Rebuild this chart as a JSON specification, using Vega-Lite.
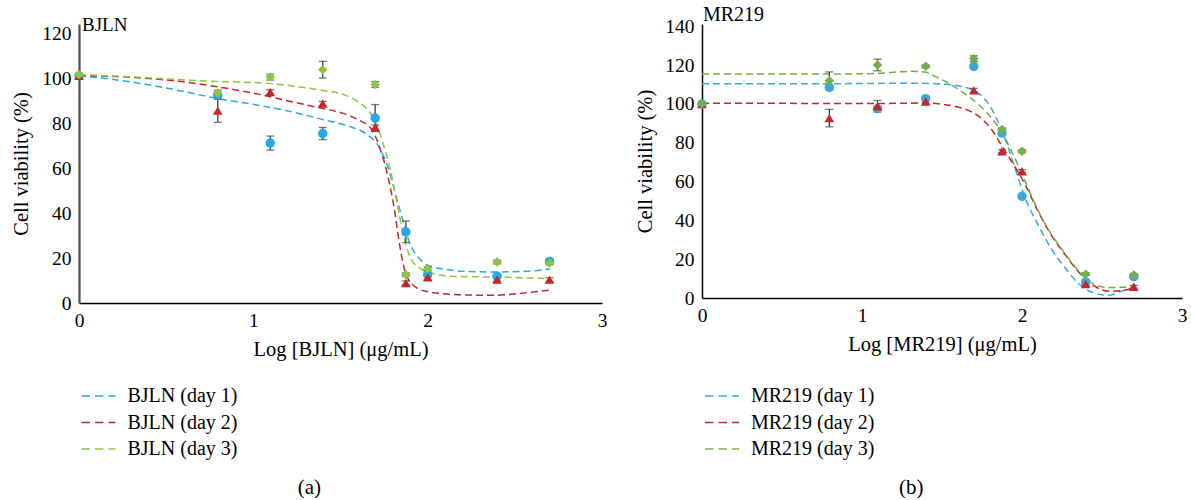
{
  "$schema": "https://vega.github.io/schema/vega-lite/v6.json",
  "background": "white",
  "padding": {"left": 11, "top": 5, "right": 4, "bottom": 0},
  "bounds": "flush",
  "spacing": 100,
  "resolve": {"scale": {"color": "independent", "x": "independent", "y": "independent"}, "legend": {"color": "independent"}, "axis": {"x": "independent", "y": "independent"}},
  "config": {
    "font": "Liberation Serif",
    "view": {"stroke": null},
    "axis": {"ticks": false, "grid": false, "labelPadding": 8, "labelFontSize": 19.5, "labelColor": "black", "titleFontSize": 20.5, "titleFontWeight": "normal", "titleColor": "black", "domainColor": "black", "domainWidth": 1.5, "labelFont": "Liberation Serif", "titleFont": "Liberation Serif", "labelFlush": false, "labelOverlap": false},
    "title": {"font": "Liberation Serif", "fontSize": 21, "fontWeight": "normal", "color": "black"},
    "legend": {"labelFont": "Liberation Serif"}
  },
  "datasets": {
    "curvesA": [
      {"s": "BJLN (day 1)", "lx": 0, "v": 101}, {"s": "BJLN (day 1)", "lx": 0.2, "v": 99.3}, {"s": "BJLN (day 1)", "lx": 0.4, "v": 97}, {"s": "BJLN (day 1)", "lx": 0.6, "v": 94}, {"s": "BJLN (day 1)", "lx": 0.8, "v": 90.8}, {"s": "BJLN (day 1)", "lx": 1.0, "v": 88.3}, {"s": "BJLN (day 1)", "lx": 1.2, "v": 85.3}, {"s": "BJLN (day 1)", "lx": 1.4, "v": 81.5}, {"s": "BJLN (day 1)", "lx": 1.55, "v": 78.5}, {"s": "BJLN (day 1)", "lx": 1.65, "v": 75}, {"s": "BJLN (day 1)", "lx": 1.72, "v": 69.5}, {"s": "BJLN (day 1)", "lx": 1.78, "v": 58.5}, {"s": "BJLN (day 1)", "lx": 1.816, "v": 48.2}, {"s": "BJLN (day 1)", "lx": 1.854, "v": 37.8}, {"s": "BJLN (day 1)", "lx": 1.9, "v": 26}, {"s": "BJLN (day 1)", "lx": 1.95, "v": 20}, {"s": "BJLN (day 1)", "lx": 2.0, "v": 16.8}, {"s": "BJLN (day 1)", "lx": 2.1, "v": 15}, {"s": "BJLN (day 1)", "lx": 2.2, "v": 14.1}, {"s": "BJLN (day 1)", "lx": 2.35, "v": 13.8}, {"s": "BJLN (day 1)", "lx": 2.5, "v": 13.9}, {"s": "BJLN (day 1)", "lx": 2.6, "v": 14.3}, {"s": "BJLN (day 1)", "lx": 2.7, "v": 15.1},
      {"s": "BJLN (day 2)", "lx": 0, "v": 101}, {"s": "BJLN (day 2)", "lx": 0.2, "v": 100.7}, {"s": "BJLN (day 2)", "lx": 0.4, "v": 99.8}, {"s": "BJLN (day 2)", "lx": 0.6, "v": 98.3}, {"s": "BJLN (day 2)", "lx": 0.8, "v": 96}, {"s": "BJLN (day 2)", "lx": 1.0, "v": 93.3}, {"s": "BJLN (day 2)", "lx": 1.2, "v": 89.8}, {"s": "BJLN (day 2)", "lx": 1.4, "v": 86.4}, {"s": "BJLN (day 2)", "lx": 1.51, "v": 84.4}, {"s": "BJLN (day 2)", "lx": 1.6, "v": 81.5}, {"s": "BJLN (day 2)", "lx": 1.68, "v": 77}, {"s": "BJLN (day 2)", "lx": 1.732, "v": 67.4}, {"s": "BJLN (day 2)", "lx": 1.77, "v": 57}, {"s": "BJLN (day 2)", "lx": 1.808, "v": 42.2}, {"s": "BJLN (day 2)", "lx": 1.836, "v": 27.4}, {"s": "BJLN (day 2)", "lx": 1.865, "v": 15.6}, {"s": "BJLN (day 2)", "lx": 1.913, "v": 8.2}, {"s": "BJLN (day 2)", "lx": 1.99, "v": 5.2}, {"s": "BJLN (day 2)", "lx": 2.18, "v": 3.7}, {"s": "BJLN (day 2)", "lx": 2.37, "v": 3.4}, {"s": "BJLN (day 2)", "lx": 2.56, "v": 4.5}, {"s": "BJLN (day 2)", "lx": 2.71, "v": 5.8},
      {"s": "BJLN (day 3)", "lx": 0, "v": 101.5}, {"s": "BJLN (day 3)", "lx": 0.3, "v": 100.5}, {"s": "BJLN (day 3)", "lx": 0.69, "v": 98.8}, {"s": "BJLN (day 3)", "lx": 1.1, "v": 97.5}, {"s": "BJLN (day 3)", "lx": 1.4, "v": 94.4}, {"s": "BJLN (day 3)", "lx": 1.52, "v": 92.6}, {"s": "BJLN (day 3)", "lx": 1.6, "v": 89.5}, {"s": "BJLN (day 3)", "lx": 1.66, "v": 85.5}, {"s": "BJLN (day 3)", "lx": 1.7, "v": 80.5}, {"s": "BJLN (day 3)", "lx": 1.74, "v": 72}, {"s": "BJLN (day 3)", "lx": 1.788, "v": 58.5}, {"s": "BJLN (day 3)", "lx": 1.826, "v": 43.7}, {"s": "BJLN (day 3)", "lx": 1.865, "v": 28.9}, {"s": "BJLN (day 3)", "lx": 1.902, "v": 20}, {"s": "BJLN (day 3)", "lx": 1.969, "v": 14.8}, {"s": "BJLN (day 3)", "lx": 2.05, "v": 12.8}, {"s": "BJLN (day 3)", "lx": 2.12, "v": 11.9}, {"s": "BJLN (day 3)", "lx": 2.47, "v": 11.4}, {"s": "BJLN (day 3)", "lx": 2.7, "v": 10.8}
    ],
    "pointsA": [
      {"s": "BJLN (day 1)", "lx": 0, "v": 101, "lo": 100.5, "hi": 101.5}, {"s": "BJLN (day 1)", "lx": 0.796, "v": 92.5, "lo": 91.5, "hi": 93.5}, {"s": "BJLN (day 1)", "lx": 1.097, "v": 71.1, "lo": 68, "hi": 74.2}, {"s": "BJLN (day 1)", "lx": 1.398, "v": 75.3, "lo": 72.6, "hi": 78}, {"s": "BJLN (day 1)", "lx": 1.699, "v": 82.2, "lo": 76.2, "hi": 88.2}, {"s": "BJLN (day 1)", "lx": 1.875, "v": 31.6, "lo": 26.8, "hi": 36.4}, {"s": "BJLN (day 1)", "lx": 2.0, "v": 12.6, "lo": 11.6, "hi": 13.6}, {"s": "BJLN (day 1)", "lx": 2.398, "v": 11.9, "lo": 10.9, "hi": 12.9}, {"s": "BJLN (day 1)", "lx": 2.699, "v": 18.5, "lo": 17.5, "hi": 19.5},
      {"s": "BJLN (day 2)", "lx": 0, "v": 101, "lo": 100.5, "hi": 101.5}, {"s": "BJLN (day 2)", "lx": 0.796, "v": 85.5, "lo": 80.3, "hi": 90.5}, {"s": "BJLN (day 2)", "lx": 1.097, "v": 93.8, "lo": 92.8, "hi": 94.8}, {"s": "BJLN (day 2)", "lx": 1.398, "v": 88.6, "lo": 87.6, "hi": 89.6}, {"s": "BJLN (day 2)", "lx": 1.699, "v": 78.1, "lo": 77.1, "hi": 79.1}, {"s": "BJLN (day 2)", "lx": 1.875, "v": 8.9, "lo": 8, "hi": 9.8}, {"s": "BJLN (day 2)", "lx": 2.0, "v": 11.4, "lo": 10.4, "hi": 12.4}, {"s": "BJLN (day 2)", "lx": 2.398, "v": 10.4, "lo": 9.6, "hi": 11.2}, {"s": "BJLN (day 2)", "lx": 2.699, "v": 10.4, "lo": 9.6, "hi": 11.2},
      {"s": "BJLN (day 3)", "lx": 0, "v": 101.5, "lo": 101, "hi": 102}, {"s": "BJLN (day 3)", "lx": 0.796, "v": 93.3, "lo": 92, "hi": 94.6}, {"s": "BJLN (day 3)", "lx": 1.097, "v": 100.4, "lo": 99.1, "hi": 101.7}, {"s": "BJLN (day 3)", "lx": 1.398, "v": 103.7, "lo": 100, "hi": 107.4}, {"s": "BJLN (day 3)", "lx": 1.699, "v": 97.1, "lo": 95.8, "hi": 98.4}, {"s": "BJLN (day 3)", "lx": 1.875, "v": 12.6, "lo": 11.8, "hi": 13.4}, {"s": "BJLN (day 3)", "lx": 2.0, "v": 15.3, "lo": 14.5, "hi": 16.1}, {"s": "BJLN (day 3)", "lx": 2.398, "v": 18.2, "lo": 17.4, "hi": 19}, {"s": "BJLN (day 3)", "lx": 2.699, "v": 17.8, "lo": 17, "hi": 18.6}
    ],
    "curvesB": [
      {"s": "MR219 (day 1)", "lx": 0, "v": 110.4}, {"s": "MR219 (day 1)", "lx": 0.5, "v": 110.4}, {"s": "MR219 (day 1)", "lx": 1.0, "v": 110.5}, {"s": "MR219 (day 1)", "lx": 1.3, "v": 110.7}, {"s": "MR219 (day 1)", "lx": 1.52, "v": 110.2}, {"s": "MR219 (day 1)", "lx": 1.62, "v": 109}, {"s": "MR219 (day 1)", "lx": 1.71, "v": 106.5}, {"s": "MR219 (day 1)", "lx": 1.78, "v": 101.3}, {"s": "MR219 (day 1)", "lx": 1.84, "v": 92.7}, {"s": "MR219 (day 1)", "lx": 1.9, "v": 80.7}, {"s": "MR219 (day 1)", "lx": 1.97, "v": 63.5}, {"s": "MR219 (day 1)", "lx": 2.02, "v": 51.5}, {"s": "MR219 (day 1)", "lx": 2.1, "v": 37.8}, {"s": "MR219 (day 1)", "lx": 2.18, "v": 25.8}, {"s": "MR219 (day 1)", "lx": 2.27, "v": 15.5}, {"s": "MR219 (day 1)", "lx": 2.35, "v": 7.7}, {"s": "MR219 (day 1)", "lx": 2.45, "v": 2.6}, {"s": "MR219 (day 1)", "lx": 2.54, "v": 1.4}, {"s": "MR219 (day 1)", "lx": 2.62, "v": 3.5}, {"s": "MR219 (day 1)", "lx": 2.71, "v": 6},
      {"s": "MR219 (day 2)", "lx": 0, "v": 100.3}, {"s": "MR219 (day 2)", "lx": 0.5, "v": 100.3}, {"s": "MR219 (day 2)", "lx": 1.0, "v": 100.2}, {"s": "MR219 (day 2)", "lx": 1.2, "v": 100.3}, {"s": "MR219 (day 2)", "lx": 1.41, "v": 100.5}, {"s": "MR219 (day 2)", "lx": 1.52, "v": 99.6}, {"s": "MR219 (day 2)", "lx": 1.62, "v": 97.9}, {"s": "MR219 (day 2)", "lx": 1.73, "v": 93.6}, {"s": "MR219 (day 2)", "lx": 1.81, "v": 86.8}, {"s": "MR219 (day 2)", "lx": 1.87, "v": 79}, {"s": "MR219 (day 2)", "lx": 1.935, "v": 70.4}, {"s": "MR219 (day 2)", "lx": 2.02, "v": 58.4}, {"s": "MR219 (day 2)", "lx": 2.1, "v": 44.7}, {"s": "MR219 (day 2)", "lx": 2.18, "v": 32.8}, {"s": "MR219 (day 2)", "lx": 2.27, "v": 22.3}, {"s": "MR219 (day 2)", "lx": 2.35, "v": 13.8}, {"s": "MR219 (day 2)", "lx": 2.44, "v": 6.9}, {"s": "MR219 (day 2)", "lx": 2.54, "v": 3.5}, {"s": "MR219 (day 2)", "lx": 2.62, "v": 3.8}, {"s": "MR219 (day 2)", "lx": 2.71, "v": 5.5},
      {"s": "MR219 (day 3)", "lx": 0, "v": 115.4}, {"s": "MR219 (day 3)", "lx": 0.5, "v": 115.4}, {"s": "MR219 (day 3)", "lx": 1.0, "v": 115.5}, {"s": "MR219 (day 3)", "lx": 1.1, "v": 115.8}, {"s": "MR219 (day 3)", "lx": 1.31, "v": 116.8}, {"s": "MR219 (day 3)", "lx": 1.4, "v": 116.3}, {"s": "MR219 (day 3)", "lx": 1.45, "v": 114.5}, {"s": "MR219 (day 3)", "lx": 1.52, "v": 111.6}, {"s": "MR219 (day 3)", "lx": 1.62, "v": 106.5}, {"s": "MR219 (day 3)", "lx": 1.73, "v": 99.6}, {"s": "MR219 (day 3)", "lx": 1.81, "v": 92.7}, {"s": "MR219 (day 3)", "lx": 1.87, "v": 85.9}, {"s": "MR219 (day 3)", "lx": 1.935, "v": 75.6}, {"s": "MR219 (day 3)", "lx": 2.02, "v": 60.1}, {"s": "MR219 (day 3)", "lx": 2.1, "v": 45.2}, {"s": "MR219 (day 3)", "lx": 2.18, "v": 33.3}, {"s": "MR219 (day 3)", "lx": 2.27, "v": 22.8}, {"s": "MR219 (day 3)", "lx": 2.35, "v": 14.3}, {"s": "MR219 (day 3)", "lx": 2.44, "v": 7.5}, {"s": "MR219 (day 3)", "lx": 2.54, "v": 5.4}, {"s": "MR219 (day 3)", "lx": 2.62, "v": 5.5}, {"s": "MR219 (day 3)", "lx": 2.71, "v": 6.3}
    ],
    "pointsB": [
      {"s": "MR219 (day 1)", "lx": 0, "v": 100, "lo": 99.5, "hi": 100.5}, {"s": "MR219 (day 1)", "lx": 0.796, "v": 108.5, "lo": 107.5, "hi": 109.5}, {"s": "MR219 (day 1)", "lx": 1.097, "v": 97.6, "lo": 96.8, "hi": 98.4}, {"s": "MR219 (day 1)", "lx": 1.398, "v": 102.7, "lo": 102, "hi": 103.4}, {"s": "MR219 (day 1)", "lx": 1.699, "v": 119.4, "lo": 118.6, "hi": 120.2}, {"s": "MR219 (day 1)", "lx": 1.875, "v": 85, "lo": 84.2, "hi": 85.8}, {"s": "MR219 (day 1)", "lx": 2.0, "v": 52.4, "lo": 51.6, "hi": 53.2}, {"s": "MR219 (day 1)", "lx": 2.398, "v": 8.3, "lo": 7.6, "hi": 9}, {"s": "MR219 (day 1)", "lx": 2.699, "v": 11, "lo": 10.3, "hi": 11.7},
      {"s": "MR219 (day 2)", "lx": 0, "v": 100, "lo": 99.5, "hi": 100.5}, {"s": "MR219 (day 2)", "lx": 0.796, "v": 92.7, "lo": 88.2, "hi": 97.2}, {"s": "MR219 (day 2)", "lx": 1.097, "v": 98.8, "lo": 95.8, "hi": 101.8}, {"s": "MR219 (day 2)", "lx": 1.398, "v": 101.3, "lo": 100.5, "hi": 102.1}, {"s": "MR219 (day 2)", "lx": 1.699, "v": 107, "lo": 106, "hi": 108}, {"s": "MR219 (day 2)", "lx": 1.875, "v": 75.6, "lo": 74.8, "hi": 76.4}, {"s": "MR219 (day 2)", "lx": 2.0, "v": 65.3, "lo": 64.5, "hi": 66.1}, {"s": "MR219 (day 2)", "lx": 2.398, "v": 7.2, "lo": 6.5, "hi": 7.9}, {"s": "MR219 (day 2)", "lx": 2.699, "v": 5.8, "lo": 5.1, "hi": 6.5},
      {"s": "MR219 (day 3)", "lx": 0, "v": 100, "lo": 99.5, "hi": 100.5}, {"s": "MR219 (day 3)", "lx": 0.796, "v": 112, "lo": 107.5, "hi": 116.5}, {"s": "MR219 (day 3)", "lx": 1.097, "v": 120.1, "lo": 117.1, "hi": 123.1}, {"s": "MR219 (day 3)", "lx": 1.398, "v": 119.4, "lo": 118.7, "hi": 120.1}, {"s": "MR219 (day 3)", "lx": 1.699, "v": 123.3, "lo": 121.8, "hi": 124.8}, {"s": "MR219 (day 3)", "lx": 1.875, "v": 86.8, "lo": 86, "hi": 87.6}, {"s": "MR219 (day 3)", "lx": 2.0, "v": 75.6, "lo": 74.8, "hi": 76.4}, {"s": "MR219 (day 3)", "lx": 2.398, "v": 12.3, "lo": 11.6, "hi": 13}, {"s": "MR219 (day 3)", "lx": 2.699, "v": 11.8, "lo": 11.1, "hi": 12.5}
    ]
  },
  "hconcat": [
    {
      "width": 523,
      "height": 279,
      "title": {"text": "(a)", "orient": "bottom", "anchor": "middle", "frame": "bounds", "offset": 18, "fontSize": 21},
      "layer": [
        {
          "data": {"name": "curvesA"},
          "mark": {"type": "line", "strokeDash": [7, 4], "strokeWidth": 1.5, "interpolate": "monotone"},
          "encoding": {
            "x": {"field": "lx", "type": "quantitative", "title": "Log [BJLN] (μg/mL)", "scale": {"domain": [0, 3], "nice": false}, "axis": {"values": [0, 1, 2, 3], "tickCount": 10, "format": "d", "titlePadding": 10, "labelFontSize": 19.5, "titleFontSize": 20.5, "labelFlush": false}},
            "y": {"field": "v", "type": "quantitative", "title": "Cell viability (%)", "scale": {"domain": [0, 124], "nice": false}, "axis": {"values": [0, 20, 40, 60, 80, 100, 120], "tickCount": 10, "format": "d", "titlePadding": 10, "labelFontSize": 19.5, "titleFontSize": 20.5, "labelOverlap": false, "domainColor": "#4d4d4d", "domainWidth": 2.2}},
            "color": {"field": "s", "type": "nominal", "scale": {"domain": ["BJLN (day 1)", "BJLN (day 2)", "BJLN (day 3)"], "range": ["#29ABE2", "#C1272D", "#8DC63F"]},
              "legend": {"orient": "none", "legendX": 9.5, "legendY": 362, "direction": "vertical", "title": null, "symbolType": "M-2,0H2", "symbolSize": 289, "symbolStrokeWidth": 1.5, "symbolDash": [8.5, 5], "symbolFillColor": "transparent", "labelFontSize": 20, "labelOffset": 19, "rowPadding": 6.5, "labelColor": "black", "padding": 0,
                "encode": {"symbols": {"update": {"fill": {"value": "transparent"}, "strokeDash": {"value": [8.5, 5]}, "strokeWidth": {"value": 1.5}, "opacity": {"value": 1}}}}}},
            "detail": {"field": "s"}
          }
        },
        {
          "data": {"name": "pointsA"},
          "mark": {"type": "errorbar", "ticks": {"size": 8, "color": "#404040"}, "rule": {"color": "#404040"}, "thickness": 1.3},
          "encoding": {
            "x": {"field": "lx", "type": "quantitative", "title": "Log [BJLN] (μg/mL)"},
            "y": {"field": "lo", "type": "quantitative", "title": "Cell viability (%)"},
            "y2": {"field": "hi"}
          }
        },
        {
          "data": {"name": "pointsA"},
          "transform": [{"filter": "datum.s === 'BJLN (day 1)'"}],
          "mark": {"type": "point", "filled": true, "opacity": 1, "size": 90, "shape": "circle"},
          "encoding": {
            "x": {"field": "lx", "type": "quantitative", "title": "Log [BJLN] (μg/mL)"},
            "y": {"field": "v", "type": "quantitative", "title": "Cell viability (%)"},
            "color": {"field": "s", "type": "nominal", "legend": null}
          }
        },
        {
          "data": {"name": "pointsA"},
          "transform": [{"filter": "datum.s === 'BJLN (day 2)'"}],
          "mark": {"type": "point", "filled": true, "opacity": 1, "size": 95, "shape": "triangle-up"},
          "encoding": {
            "x": {"field": "lx", "type": "quantitative", "title": "Log [BJLN] (μg/mL)"},
            "y": {"field": "v", "type": "quantitative", "title": "Cell viability (%)"},
            "color": {"field": "s", "type": "nominal", "legend": null}
          }
        },
        {
          "data": {"name": "pointsA"},
          "transform": [{"filter": "datum.s === 'BJLN (day 3)'"}],
          "mark": {"type": "point", "filled": true, "opacity": 1, "size": 90, "shape": "diamond"},
          "encoding": {
            "x": {"field": "lx", "type": "quantitative", "title": "Log [BJLN] (μg/mL)"},
            "y": {"field": "v", "type": "quantitative", "title": "Cell viability (%)"},
            "color": {"field": "s", "type": "nominal", "legend": null}
          }
        },
        {
          "data": {"values": [{"lx": 0, "v": 120, "label": "BJLN"}]},
          "mark": {"type": "text", "align": "left", "baseline": "alphabetic", "dx": 3, "dy": -2, "fontSize": 19, "color": "black"},
          "encoding": {
            "x": {"field": "lx", "type": "quantitative", "title": "Log [BJLN] (μg/mL)"},
            "y": {"field": "v", "type": "quantitative", "title": "Cell viability (%)"},
            "text": {"field": "label"}
          }
        }
      ]
    },
    {
      "width": 480,
      "height": 274,
      "title": {"text": "(b)", "orient": "bottom", "anchor": "middle", "frame": "bounds", "offset": 18, "fontSize": 21},
      "layer": [
        {
          "data": {"name": "curvesB"},
          "mark": {"type": "line", "strokeDash": [7, 4], "strokeWidth": 1.5, "interpolate": "monotone"},
          "encoding": {
            "x": {"field": "lx", "type": "quantitative", "title": "Log [MR219] (μg/mL)", "scale": {"domain": [0, 3], "nice": false}, "axis": {"values": [0, 1, 2, 3], "tickCount": 10, "format": "d", "titlePadding": 10, "labelFontSize": 19.5, "titleFontSize": 20.5, "labelFlush": false}},
            "y": {"field": "v", "type": "quantitative", "title": "Cell viability (%)", "scale": {"domain": [0, 141.2], "nice": false}, "axis": {"values": [0, 20, 40, 60, 80, 100, 120, 140], "tickCount": 10, "format": "d", "titlePadding": 9, "labelFontSize": 19.5, "titleFontSize": 20.5, "labelOverlap": false}},
            "color": {"field": "s", "type": "nominal", "scale": {"domain": ["MR219 (day 1)", "MR219 (day 2)", "MR219 (day 3)"], "range": ["#3BAAD8", "#C1272D", "#72AE4A"]},
              "legend": {"orient": "none", "legendX": 10, "legendY": 362, "direction": "vertical", "title": null, "symbolType": "M-2,0H2", "symbolSize": 289, "symbolStrokeWidth": 1.5, "symbolDash": [8.5, 5], "symbolFillColor": "transparent", "labelFontSize": 20, "labelOffset": 19, "rowPadding": 6.5, "labelColor": "black", "padding": 0,
                "encode": {"symbols": {"update": {"fill": {"value": "transparent"}, "strokeDash": {"value": [8.5, 5]}, "strokeWidth": {"value": 1.5}, "opacity": {"value": 1}}}}}},
            "detail": {"field": "s"}
          }
        },
        {
          "data": {"name": "pointsB"},
          "mark": {"type": "errorbar", "ticks": {"size": 8, "color": "#404040"}, "rule": {"color": "#404040"}, "thickness": 1.3},
          "encoding": {
            "x": {"field": "lx", "type": "quantitative", "title": "Log [MR219] (μg/mL)"},
            "y": {"field": "lo", "type": "quantitative", "title": "Cell viability (%)"},
            "y2": {"field": "hi"}
          }
        },
        {
          "data": {"name": "pointsB"},
          "transform": [{"filter": "datum.s === 'MR219 (day 1)'"}],
          "mark": {"type": "point", "filled": true, "opacity": 1, "size": 90, "shape": "circle"},
          "encoding": {
            "x": {"field": "lx", "type": "quantitative", "title": "Log [MR219] (μg/mL)"},
            "y": {"field": "v", "type": "quantitative", "title": "Cell viability (%)"},
            "color": {"field": "s", "type": "nominal", "legend": null}
          }
        },
        {
          "data": {"name": "pointsB"},
          "transform": [{"filter": "datum.s === 'MR219 (day 2)'"}],
          "mark": {"type": "point", "filled": true, "opacity": 1, "size": 95, "shape": "triangle-up"},
          "encoding": {
            "x": {"field": "lx", "type": "quantitative", "title": "Log [MR219] (μg/mL)"},
            "y": {"field": "v", "type": "quantitative", "title": "Cell viability (%)"},
            "color": {"field": "s", "type": "nominal", "legend": null}
          }
        },
        {
          "data": {"name": "pointsB"},
          "transform": [{"filter": "datum.s === 'MR219 (day 3)'"}],
          "mark": {"type": "point", "filled": true, "opacity": 1, "size": 90, "shape": "diamond"},
          "encoding": {
            "x": {"field": "lx", "type": "quantitative", "title": "Log [MR219] (μg/mL)"},
            "y": {"field": "v", "type": "quantitative", "title": "Cell viability (%)"},
            "color": {"field": "s", "type": "nominal", "legend": null}
          }
        },
        {
          "data": {"values": [{"lx": 0, "v": 140, "label": "MR219"}]},
          "mark": {"type": "text", "align": "left", "baseline": "alphabetic", "dx": 1, "dy": -5, "fontSize": 20, "color": "black"},
          "encoding": {
            "x": {"field": "lx", "type": "quantitative", "title": "Log [MR219] (μg/mL)"},
            "y": {"field": "v", "type": "quantitative", "title": "Cell viability (%)"},
            "text": {"field": "label"}
          }
        }
      ]
    }
  ]
}
